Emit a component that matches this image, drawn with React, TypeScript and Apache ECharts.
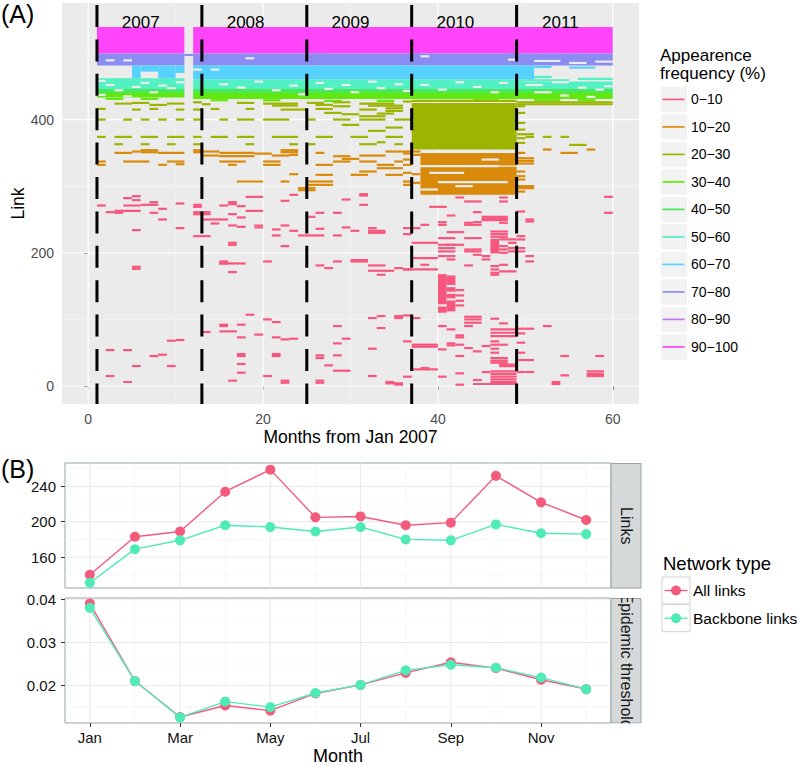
import React, { useEffect, useRef } from "react";
import * as echarts from "echarts";

const FONT = '"Liberation Sans", Arial, Helvetica, sans-serif';

// ---------------- Panel A data ----------------
const freqClasses = ["0−10", "10−20", "20−30", "30−40", "40−50", "50−60", "60−70", "70−80", "80−90", "90−100"];
const classColors = ["#F7577F", "#D98A0A", "#9DB500", "#62E80C", "#48E85C", "#52F0C2", "#57D2FF", "#8A8CF2", "#C476F2", "#FF44FA"];

// segments: [startMonth, endMonth, link] (single link) or [startMonth, endMonth, linkLow, linkHigh] (block of links)
const seg0to10 = [
  // 2007
  [1, 2, 271], [2, 3, 261], [3, 4, 260], [3, 4, 263], [4, 5, 282], [4, 6, 271], [4, 6, 263], [5, 6, 285], [5, 6, 279],
  [6, 8, 272], [5, 6, 234], [5, 6, 176], [5, 6, 179], [7, 8, 276], [8, 9, 266], [7, 8, 260], [8, 9, 250], [10, 11, 274],
  [10, 11, 237], [2, 3, 54], [4, 5, 54], [7, 8, 45], [8, 9, 47], [9, 10, 68], [10, 11, 69], [5, 6, 30], [9, 10, 30],
  [2, 3, 15], [4, 5, 6],
  // 2008
  [12, 13, 272], [12, 13, 269], [12, 14, 258], [12, 14, 261], [13, 16, 250], [14, 15, 244], [12, 14, 225], [15, 16, 271],
  [16, 17, 276], [16, 17, 273], [17, 18, 270], [16, 17, 258], [17, 18, 253], [16, 17, 241], [17, 18, 239], [18, 20, 284],
  [18, 20, 263], [19, 20, 241], [19, 20, 238], [16, 17, 212], [16, 17, 215], [15, 16, 184], [15, 16, 187], [15, 18, 184],
  [16, 17, 171], [20, 21, 187], [21, 22, 235], [21, 22, 226], [22, 23, 241], [22, 23, 210], [23, 24, 233], [24, 27, 226],
  [22, 23, 278], [23, 24, 287], [15, 16, 90], [15, 16, 92], [15, 17, 82], [17, 18, 92], [13, 14, 81], [17, 18, 73],
  [19, 20, 77], [20, 21, 100], [21, 22, 96], [21, 22, 73], [22, 23, 70], [23, 24, 71], [18, 19, 107], [17, 18, 45],
  [17, 18, 48], [21, 22, 45], [21, 22, 48], [17, 18, 33], [17, 18, 20], [16, 17, 8], [20, 21, 15], [22, 23, 8], [22, 23, 5],
  // 2009
  [25, 26, 254], [26, 27, 260], [26, 27, 236], [28, 29, 260], [28, 29, 226], [29, 30, 280], [29, 30, 238], [30, 31, 233],
  [31, 32, 286], [31, 32, 272], [32, 33, 237], [32, 34, 233], [32, 34, 230], [26, 27, 181], [27, 28, 177], [28, 29, 187],
  [30, 32, 187], [30, 32, 189], [32, 34, 181], [32, 35, 173], [33, 34, 167], [35, 36, 177], [28, 29, 90], [29, 30, 71],
  [28, 29, 64], [26, 27, 46], [26, 27, 42], [28, 29, 46], [27, 28, 31], [28, 30, 23], [26, 27, 8], [32, 33, 102],
  [33, 34, 105], [33, 34, 87], [35, 36, 105], [35, 36, 102], [32, 33, 56], [32, 33, 15], [34, 35, 6], [35, 36, 2],
  [26, 27, 5], [34, 36, 4], [31, 32, 288],
  // 2010 - 2011
  [36, 38, 237], [36, 37, 228], [36, 37, 175], [36, 40, 175], [37, 40, 215], [37, 40, 192], [38, 39, 182], [38, 39, 242],
  [39, 41, 269], [40, 41, 246], [40, 41, 242], [41, 42, 256], [41, 43, 231], [40, 42, 222], [40, 42, 212], [40, 42, 207],
  [40, 42, 202], [41, 43, 212], [40, 41, 195], [41, 42, 195], [41, 42, 190], [43, 44, 245], [43, 45, 242], [44, 45, 261],
  [44, 45, 246], [43, 45, 222], [43, 45, 205], [43, 45, 202], [44, 45, 197], [43, 44, 181], [45, 48, 254], [45, 48, 251],
  [45, 48, 249], [46, 48, 232], [46, 48, 228], [46, 48, 224], [47, 49, 220], [47, 48, 210], [47, 48, 205], [47, 48, 200],
  [48, 49, 215], [48, 49, 207], [48, 49, 202], [46, 47, 180], [46, 47, 175], [46, 47, 170], [46, 47, 167], [47, 48, 182],
  [47, 49, 172], [45, 46, 195], [45, 46, 190], [47, 48, 245], [49, 50, 262], [50, 51, 250], [50, 51, 247], [49, 50, 225],
  [49, 50, 220], [49, 50, 207], [49, 50, 202], [50, 51, 195], [50, 51, 187], [59, 60, 284], [59, 60, 260],
  [46, 47, 199, 221], [40, 41, 110, 168], [41, 42, 112, 166], [42, 43, 144], [42, 43, 136], [42, 43, 128], [42, 43, 121],
  [36, 37, 106], [37, 38, 102], [40, 41, 90], [41, 42, 85], [42, 43, 76], [42, 43, 73], [43, 45, 104], [43, 45, 100],
  [43, 45, 95], [43, 44, 90], [46, 47, 101], [47, 48, 94], [46, 49, 85], [46, 49, 80], [46, 49, 75], [49, 51, 86],
  [49, 50, 79], [52, 53, 90], [37, 40, 62], [37, 40, 59], [40, 41, 55], [41, 42, 64], [41, 42, 61], [42, 43, 62],
  [43, 44, 57], [44, 45, 52], [45, 46, 60], [46, 47, 67], [46, 47, 62], [46, 47, 56], [46, 47, 50], [47, 48, 62],
  [49, 50, 65], [49, 50, 50], [49, 51, 39], [54, 55, 45], [58, 59, 45], [46, 48, 42], [46, 48, 38], [46, 48, 35],
  [47, 49, 32], [47, 49, 30], [37, 40, 25], [38, 39, 27], [42, 43, 45], [36, 37, 67], [36, 37, 14], [40, 41, 14],
  [42, 43, 19], [45, 46, 21], [46, 49, 22], [46, 49, 18], [46, 49, 14], [46, 49, 10], [46, 49, 6], [44, 45, 9],
  [42, 43, 2], [49, 50, 21], [50, 51, 21], [53, 54, 6], [54, 55, 16], [57, 59, 22], [57, 59, 18], [57, 59, 15],
  [44, 49, 3], [53, 54, 3], [42, 43, 283], [47, 48, 283], [47, 48, 277], [43, 45, 277],
];

const seg10to20 = [
  [3, 5, 350], [5, 6, 352], [6, 8, 351], [6, 8, 354], [8, 11, 350], [12, 13, 351], [12, 13, 354], [13, 15, 352],
  [15, 19, 350], [19, 21, 349], [22, 24, 351], [22, 24, 354], [13, 15, 346], [15, 19, 345], [21, 23, 346], [23, 24, 347],
  [1, 2, 337], [4, 7, 337], [9, 11, 337], [15, 18, 337], [20, 22, 337], [28, 30, 337], [31, 33, 337], [35, 36, 337],
  [1, 2, 332], [8, 9, 332], [10, 11, 333], [16, 17, 332], [20, 22, 332], [26, 28, 332], [33, 35, 332],
  [23, 24, 318], [26, 28, 317], [30, 32, 317], [34, 36, 317], [17, 20, 307], [22, 23, 307], [25, 28, 307],
  [25, 28, 302], [24, 26, 294], [24, 26, 297], [26, 27, 350], [28, 30, 345], [29, 31, 341], [31, 34, 346],
  [34, 36, 352], [33, 36, 327], [31, 33, 322],
  [36, 37, 352], [36, 37, 349], [36, 37, 340], [36, 37, 332], [36, 37, 320], [36, 37, 307], [36, 37, 302],
  [37, 38, 352], [37, 38, 347], [37, 38, 318], [37, 38, 305],
  [38, 49, 331, 350], [38, 49, 287, 329],
  [49, 50, 350], [49, 51, 342], [49, 51, 338], [49, 51, 334], [49, 50, 322], [49, 50, 315], [49, 50, 310],
  [49, 51, 300], [49, 51, 297], [49, 50, 292], [52, 53, 355], [54, 56, 350], [57, 58, 355],
];

const seg20to30 = [
  [37, 49, 355, 425],
  [3, 5, 424], [5, 7, 425], [7, 9, 422], [9, 11, 424], [12, 13, 426], [13, 14, 423], [17, 19, 425], [20, 24, 424],
  [21, 24, 421], [25, 27, 425], [26, 28, 422], [28, 30, 426], [28, 30, 420], [31, 35, 424], [32, 36, 421], [34, 36, 417],
  [1, 2, 416], [5, 6, 415], [7, 8, 416], [10, 11, 415], [12, 13, 415], [14, 15, 416], [18, 19, 416], [22, 25, 415],
  [26, 28, 416], [31, 33, 415], [34, 36, 413], [27, 29, 410], [29, 31, 408], [31, 34, 405], [33, 35, 409],
  [1, 2, 400], [4, 5, 400], [6, 7, 400], [8, 9, 400], [10, 11, 400], [12, 13, 400], [15, 16, 400], [17, 19, 400],
  [20, 23, 400], [25, 26, 400], [28, 30, 400], [31, 34, 400], [35, 37, 400], [29, 31, 392], [34, 36, 388], [32, 34, 383],
  [1, 2, 374], [3, 5, 374], [6, 8, 374], [9, 11, 374], [12, 13, 374], [14, 16, 374], [17, 19, 374], [21, 24, 374],
  [26, 28, 374], [30, 32, 374], [34, 36, 374], [3, 4, 363], [6, 7, 363], [9, 10, 363], [12, 13, 363], [18, 19, 363],
  [23, 24, 363], [25, 26, 363], [31, 33, 363], [35, 36, 363], [33, 34, 366],
  [49, 50, 420], [49, 50, 410], [49, 50, 395], [49, 50, 385], [49, 51, 378], [49, 50, 372], [49, 50, 365],
  [50, 51, 374], [52, 53, 374], [54, 55, 374], [55, 57, 362], [49, 60, 426], [49, 60, 423], [36, 37, 427], [37, 49, 428],
];

const seg30to40 = [
  [1, 11, 433, 440], [12, 60, 431, 440],
  [2, 4, 431], [6, 8, 431], [14, 16, 429], [20, 22, 429], [27, 29, 428], [33, 35, 428], [44, 47, 429], [51, 54, 429], [56, 58, 429],
];
const seg40to50 = [[1, 11, 440, 446], [12, 60, 440, 446]];
const seg50to60 = [[1, 11, 446, 462], [12, 49, 446, 460], [49, 60, 446, 457], [49, 55, 459], [56, 60, 461], [51, 53, 464]];
const seg60to70 = [
  [5, 6, 462, 481], [6, 8, 472, 481], [8, 10, 462, 481], [10, 11, 470, 481], [12, 51, 460, 481], [51, 53, 479], [55, 58, 478],
];
const seg70to80 = [[1, 11, 481, 499], [12, 60, 481, 499], [11, 12, 497]];
const seg80to90 = [[26, 27, 499], [37, 38, 499], [48, 49, 499]];
const seg90to100 = [[1, 11, 499, 539], [12, 60, 499, 539]];

// cells with no link present inside the dense bands: [startMonth, endMonth, link]
const emptyCells = [
  [2, 3, 489], [4, 5, 489], [1, 2, 458], [2, 3, 452], [5, 6, 449], [3, 4, 444], [6, 7, 455], [8, 9, 451], [9, 10, 447],
  [7, 8, 441], [10, 11, 456], [1, 2, 437], [4, 5, 435],
  [12, 13, 475], [14, 15, 475], [18, 19, 492], [15, 16, 453], [17, 18, 448], [19, 20, 457], [21, 22, 444], [23, 24, 451],
  [24, 25, 438], [26, 27, 455], [27, 28, 446], [29, 30, 452], [30, 31, 441], [32, 33, 457], [33, 34, 447], [35, 36, 453],
  [36, 37, 443], [38, 39, 452], [40, 41, 445], [42, 43, 456], [44, 45, 449], [46, 47, 441], [47, 48, 455], [48, 49, 490],
  [38, 39, 495], [51, 54, 488], [55, 57, 485], [58, 60, 487], [50, 52, 452], [53, 55, 456], [56, 57, 448], [58, 59, 445],
  [51, 53, 441], [54, 55, 436], [57, 58, 434], [59, 60, 450],
  [41, 42, 150], [41, 42, 140], [41, 42, 130], [40, 41, 121], [38, 47, 330], [39, 43, 320], [40, 48, 306], [38, 40, 295],
  [45, 47, 340], [42, 44, 300],
];

const classSegments = [seg0to10, seg10to20, seg20to30, seg30to40, seg40to50, seg50to60, seg60to70, seg70to80, seg80to90, seg90to100];

const yearLabels = ["2007", "2008", "2009", "2010", "2011"];
const yearStartMonths = [1, 13, 25, 37, 49];
const monthTicksA = [0, 20, 40, 60];
const monthMinorA = [10, 30, 50];
const linkTicks = [0, 200, 400];
const linkMinor = [100, 300, 500];

// ---------------- Panel B data ----------------
const monthNames = ["Jan", "Feb", "Mar", "Apr", "May", "Jun", "Jul", "Aug", "Sep", "Oct", "Nov", "Dec"];
const monthTicksB = [1, 3, 5, 7, 9, 11];
const monthMinorB = [2, 4, 6, 8, 10, 12];
const allLinksCount = [140, 183, 189, 234, 259, 205, 206, 196, 199, 252, 222, 202];
const backboneLinksCount = [131, 169, 179, 196, 194, 189, 194, 180, 179, 197, 187, 186];
const allLinksThreshold = [0.0391, 0.021, 0.0126, 0.0153, 0.0141, 0.0181, 0.0201, 0.0229, 0.0254, 0.024, 0.0213, 0.0191];
const backboneThreshold = [0.0381, 0.021, 0.0125, 0.0162, 0.0149, 0.0182, 0.0201, 0.0235, 0.0248, 0.0241, 0.0218, 0.0191];
const linksTicks = [160, 200, 240];
const linksMinor = [140, 180, 220, 260];
const thrTicks = [0.02, 0.03, 0.04];
const thrMinor = [0.015, 0.025, 0.035];
const networkTypes = ["All links", "Backbone links"];
const networkColors = ["#F45A7C", "#4FEBB6"];

const BORDER = "#99A3A3";

function segRender(color: string) {
  return (params: any, api: any) => {
    const s = api.value(0), e = api.value(1), lo = api.value(2), hi = api.value(3);
    const a = api.coord([s, hi]);
    const b = api.coord([e, lo]);
    let y = a[1];
    let h = b[1] - a[1];
    if (h < 2.2) {
      const c = (a[1] + b[1]) / 2;
      y = c - 1.1;
      h = 2.2;
    }
    return { type: "rect", shape: { x: a[0], y, width: b[0] - a[0], height: h }, style: { fill: color } };
  };
}

function vLines(color: string, w: number, dash?: number[]) {
  return (params: any, api: any) => {
    const cs = params.coordSys;
    const x = api.coord([api.value(0), api.value(1)])[0];
    const style: any = { stroke: color, lineWidth: w };
    if (dash) {
      style.lineDash = dash;
      style.lineDashOffset = -2;
    }
    return { type: "line", shape: { x1: x, y1: cs.y, x2: x, y2: cs.y + cs.height }, style };
  };
}

function hLines(color: string, w: number) {
  return (params: any, api: any) => {
    const cs = params.coordSys;
    const y = api.coord([api.value(0), api.value(1)])[1];
    return { type: "line", shape: { x1: cs.x, y1: y, x2: cs.x + cs.width, y2: y }, style: { stroke: color, lineWidth: w } };
  };
}

function gridSeries(idx: number, xs: number[], ys: number[], xRef: number, yRef: number, color: string, w: number, z: number) {
  const out: any[] = [];
  out.push({
    type: "custom", xAxisIndex: idx, yAxisIndex: idx, silent: true, z,
    data: xs.map((v) => [v, yRef]), renderItem: vLines(color, w),
  });
  out.push({
    type: "custom", xAxisIndex: idx, yAxisIndex: idx, silent: true, z,
    data: ys.map((v) => [xRef, v]), renderItem: hLines(color, w),
  });
  return out;
}

function txt(text: string, x: number, y: number, size: number, opts: any = {}) {
  return {
    type: "text",
    x, y,
    rotation: opts.rotation || 0,
    z: opts.z || 10,
    style: {
      text,
      fill: opts.color || "#000000",
      fontSize: size,
      fontFamily: FONT,
      textAlign: opts.align || "center",
      align: opts.align || "center",
      textVerticalAlign: opts.valign || "middle",
      verticalAlign: opts.valign || "middle",
      lineHeight: opts.lineHeight,
    },
  };
}

function buildOption() {
  const series: any[] = [];
  // Panel A grid lines
  series.push(...gridSeries(0, monthMinorA, linkMinor, 0, 0, "#F7F7F7", 0.6, 1));
  series.push(...gridSeries(0, monthTicksA, linkTicks, 0, 0, "#FFFFFF", 1.2, 1));
  // Panel A segments, highest frequency first
  for (let i = classSegments.length - 1; i >= 0; i--) {
    series.push({
      type: "custom", name: freqClasses[i], xAxisIndex: 0, yAxisIndex: 0, silent: true, z: 3,
      data: classSegments[i].map((s) => (s.length === 3 ? [s[0], s[1], s[2], s[2]] : s)),
      renderItem: segRender(classColors[i]),
    });
  }
  series.push({
    type: "custom", xAxisIndex: 0, yAxisIndex: 0, silent: true, z: 3,
    data: emptyCells.map((s) => [s[0], s[1], s[2], s[2]]),
    renderItem: segRender("#EBEBEB"),
  });
  // year boundaries
  series.push({
    type: "custom", xAxisIndex: 0, yAxisIndex: 0, silent: true, z: 5,
    data: yearStartMonths.map((m) => [m, 0]),
    renderItem: vLines("#000000", 3, [22, 12.4]),
  });
  series.push({
    type: "custom", xAxisIndex: 0, yAxisIndex: 0, silent: true, z: 6,
    data: yearStartMonths.map((m, i) => [m + 5, 0, i]),
    renderItem: (params: any, api: any) => {
      const cs = params.coordSys;
      const x = api.coord([api.value(0), 0])[0];
      return {
        type: "text", x, y: cs.y + 19,
        style: {
          text: yearLabels[api.value(2)], fill: "#000", fontSize: 17, fontFamily: FONT,
          textAlign: "center", align: "center", textVerticalAlign: "middle", verticalAlign: "middle",
        },
      };
    },
  });

  // Panel B grid lines
  series.push(...gridSeries(1, monthMinorB, linksMinor, 1, 200, "#F4F4F4", 0.7, 1));
  series.push(...gridSeries(1, monthTicksB, linksTicks, 1, 200, "#EAEAEA", 1, 1));
  series.push(...gridSeries(2, monthMinorB, thrMinor, 1, 0.02, "#F4F4F4", 0.7, 1));
  series.push(...gridSeries(2, monthTicksB, thrTicks, 1, 0.02, "#EAEAEA", 1, 1));

  const lineS = (name: string, idx: number, vals: number[], color: string, z: number) => ({
    type: "line", name, xAxisIndex: idx, yAxisIndex: idx, z,
    data: vals.map((v, i) => [i + 1, v]),
    symbol: "circle", symbolSize: 10, showSymbol: true,
    lineStyle: { color, width: 1.4 }, itemStyle: { color }, silent: true,
  });
  series.push(lineS(networkTypes[0], 1, allLinksCount, networkColors[0], 4));
  series.push(lineS(networkTypes[1], 1, backboneLinksCount, networkColors[1], 5));
  series.push(lineS(networkTypes[0], 2, allLinksThreshold, networkColors[0], 4));
  series.push(lineS(networkTypes[1], 2, backboneThreshold, networkColors[1], 5));

  const tickA = { show: true, length: 4, lineStyle: { color: "#333333", width: 1 } };
  const tickB = { show: true, length: 4, lineStyle: { color: "#333333", width: 1 } };

  const xAxis = [
    {
      gridIndex: 0, type: "value", min: -3, max: 63,
      axisLine: { show: false }, splitLine: { show: false },
      axisTick: { ...tickA, customValues: monthTicksA },
      axisLabel: { customValues: monthTicksA, color: "#4D4D4D", fontSize: 14, margin: 8, fontFamily: FONT },
    },
    {
      gridIndex: 1, type: "value", min: 0.45, max: 12.55,
      axisLine: { show: false }, splitLine: { show: false }, axisTick: { show: false }, axisLabel: { show: false },
    },
    {
      gridIndex: 2, type: "value", min: 0.45, max: 12.55,
      axisLine: { show: false }, splitLine: { show: false },
      axisTick: { ...tickB, customValues: monthTicksB },
      axisLabel: {
        customValues: monthTicksB, color: "#111111", fontSize: 15, margin: 7, fontFamily: FONT,
        formatter: (v: number) => monthNames[Math.round(v) - 1],
      },
    },
  ];
  const yAxis = [
    {
      gridIndex: 0, type: "value", min: -27, max: 575,
      axisLine: { show: false }, splitLine: { show: false },
      axisTick: { ...tickA, customValues: linkTicks },
      axisLabel: { customValues: linkTicks, color: "#4D4D4D", fontSize: 14, margin: 8, fontFamily: FONT },
    },
    {
      gridIndex: 1, type: "value", min: 125, max: 266.5,
      axisLine: { show: false }, splitLine: { show: false },
      axisTick: { ...tickB, customValues: linksTicks },
      axisLabel: { customValues: linksTicks, color: "#111111", fontSize: 15, margin: 9, fontFamily: FONT },
    },
    {
      gridIndex: 2, type: "value", min: 0.0112, max: 0.0404,
      axisLine: { show: false }, splitLine: { show: false },
      axisTick: { ...tickB, customValues: thrTicks },
      axisLabel: {
        customValues: thrTicks, color: "#111111", fontSize: 15, margin: 9, fontFamily: FONT,
        formatter: (v: number) => v.toFixed(2),
      },
    },
  ];

  const g: any[] = [];
  // panel letters
  g.push(txt("(A)", 1, 14, 25, { align: "left" }));
  g.push(txt("(B)", 1, 469, 25, { align: "left" }));
  // axis titles
  g.push(txt("Link", 17.5, 203.5, 17.5, { rotation: Math.PI / 2 }));
  g.push(txt("Months from Jan 2007", 350.5, 437, 17.5));
  g.push(txt("Month", 338, 756, 18));
  // legend A
  g.push(txt("Appearence\nfrequency (%)", 660, 46, 17, { align: "left", valign: "top", lineHeight: 18 }));
  freqClasses.forEach((label, i) => {
    const cy = 99.4 + 27.5 * i;
    g.push({ type: "rect", z: 9, shape: { x: 661, y: cy - 12.7, width: 26, height: 25.5 }, style: { fill: "#F2F2F2" } });
    g.push({ type: "line", z: 10, shape: { x1: 662.5, y1: cy, x2: 684.5, y2: cy }, style: { stroke: classColors[i], lineWidth: 1.7 } });
    g.push(txt(label, 691, cy, 14, { align: "left" }));
  });
  // strips
  g.push({ type: "rect", z: 9, shape: { x: 611, y: 463.5, width: 30, height: 124.5 }, style: { fill: "#D6D9D9", stroke: BORDER, lineWidth: 1 } });
  g.push({ type: "rect", z: 9, shape: { x: 611, y: 598.5, width: 30, height: 124.5 }, style: { fill: "#D6D9D9", stroke: BORDER, lineWidth: 1 } });
  g.push(txt("Links", 626, 525.7, 16, { rotation: -Math.PI / 2, color: "#1A1A1A" }));
  g.push(txt("Epidemic threshold", 626, 660.7, 16, { rotation: -Math.PI / 2, color: "#1A1A1A" }));
  g.push({ type: "rect", z: 20, shape: { x: 610.5, y: 589, width: 32, height: 9 }, style: { fill: "#FFFFFF" } });
  g.push({ type: "rect", z: 20, shape: { x: 610.5, y: 723.5, width: 32, height: 14 }, style: { fill: "#FFFFFF" } });
  // legend B
  g.push(txt("Network type", 663, 563, 18.5, { align: "left" }));
  networkTypes.forEach((label, i) => {
    const cy = 590.5 + 27.7 * i;
    g.push({ type: "rect", z: 9, shape: { x: 662, y: cy - 13.5, width: 28, height: 27 }, style: { fill: "#FFFFFF", stroke: "#D2D2D2", lineWidth: 1 } });
    g.push({ type: "line", z: 10, shape: { x1: 664.5, y1: cy, x2: 687.5, y2: cy }, style: { stroke: networkColors[i], lineWidth: 1.3 } });
    g.push({ type: "circle", z: 10, shape: { cx: 676, cy, r: 5 }, style: { fill: networkColors[i] } });
    g.push(txt(label, 693, cy, 15.5, { align: "left" }));
  });

  return {
    animation: false,
    backgroundColor: "#FFFFFF",
    textStyle: { fontFamily: FONT },
    grid: [
      { left: 62, top: 3, width: 577, height: 401, show: true, backgroundColor: "#EBEBEB", borderWidth: 0 },
      { left: 65, top: 463, width: 546, height: 125, show: true, backgroundColor: "#FFFFFF", borderColor: BORDER, borderWidth: 1 },
      { left: 65, top: 598, width: 546, height: 125, show: true, backgroundColor: "#FFFFFF", borderColor: BORDER, borderWidth: 1 },
    ],
    xAxis,
    yAxis,
    series,
    graphic: { elements: g },
  };
}

export default function App() {
  const ref = useRef<HTMLDivElement>(null);
  useEffect(() => {
    const chart = echarts.init(ref.current as HTMLDivElement, undefined, { renderer: "svg" });
    chart.setOption(buildOption() as any);
    return () => chart.dispose();
  }, []);
  return (
    <div
      ref={ref}
      style={{ position: "absolute", left: 0, top: 0, width: 800, height: 765, background: "#FFFFFF" }}
    />
  );
}
